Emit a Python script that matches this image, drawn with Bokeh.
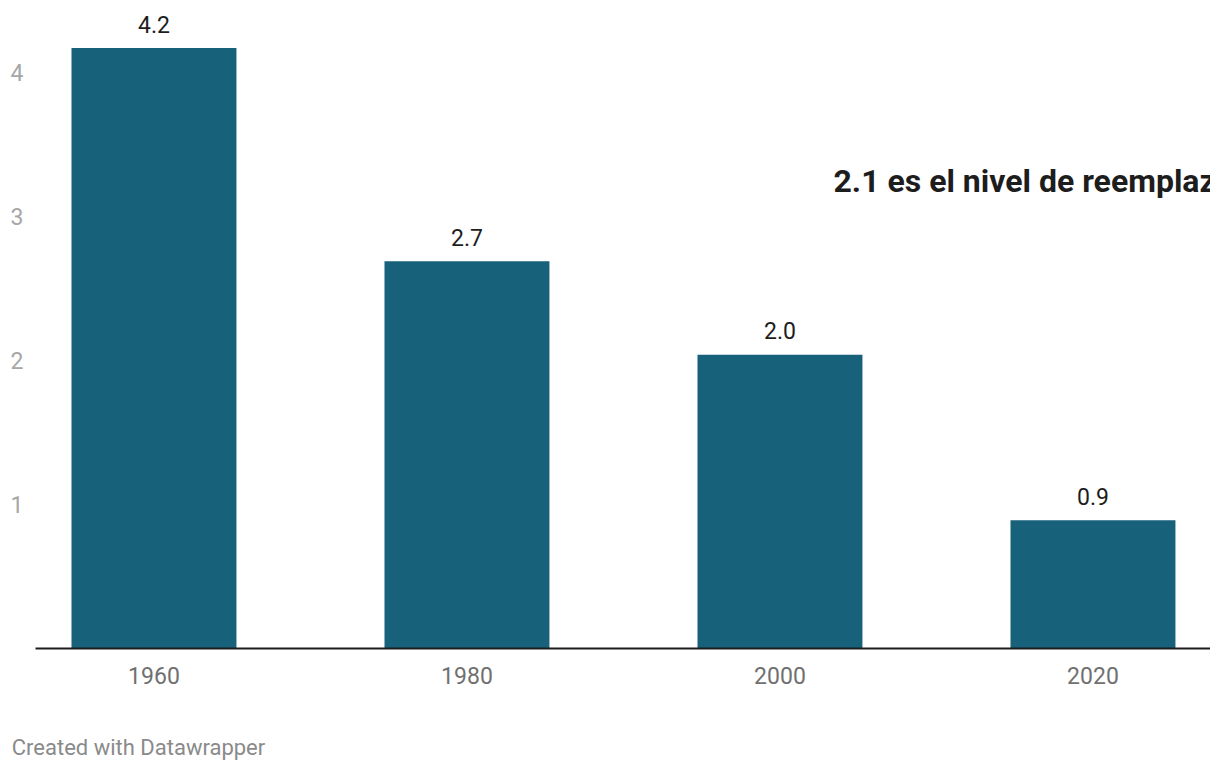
from bokeh.plotting import figure
from bokeh.layouts import column
from bokeh.models import Range1d, FixedTicker, Label, ColumnDataSource
from bokeh.core.properties import value
from bokeh.embed import file_html
from bokeh.resources import INLINE

# --- data ---
years = [1960, 1980, 2000, 2020]
year_labels = ["1960", "1980", "2000", "2020"]
fertility = [4.17, 2.69, 2.04, 0.89]
y_ticks = [1, 2, 3, 4]
annotation_text = "2.1 es el nivel de reemplazo"
footer_text = "Created with Datawrapper"

BAR = "#17617a"
FONT = "Roboto"

src = ColumnDataSource(dict(
    x=years, top=fertility, lab=[f"{v:.1f}" for v in fertility]))

p = figure(width=1210, height=722, output_backend="svg", toolbar_location=None,
           x_range=Range1d(1952.43, 2027.51), y_range=Range1d(0, 4.5),
           min_border_left=35, min_border_right=0, min_border_top=0,
           min_border_bottom=74)
p.outline_line_color = None
p.background_fill_color = "white"
p.border_fill_color = "white"
p.xgrid.visible = False
p.ygrid.visible = False

p.vbar(x="x", top="top", bottom=0, width=10.54, source=src,
       fill_color=BAR, line_color=None)
p.text(x="x", y="top", text="lab", source=src, y_offset=-24,
       text_align="center", text_baseline="middle",
       text_font=value(FONT), text_font_size="23px", text_color="#1d1d1d")

# x axis
xa = p.xaxis[0]
xa.ticker = FixedTicker(ticks=years)
xa.major_label_overrides = {y: l for y, l in zip(years, year_labels)}
xa.axis_line_color = "#1d1d1d"
xa.axis_line_width = 2
xa.major_tick_line_color = None
xa.minor_tick_line_color = None
xa.major_label_text_font = FONT
xa.major_label_text_font_size = "23px"
xa.major_label_text_color = "#707070"
xa.major_label_standoff = 12

# y axis
ya = p.yaxis[0]
ya.ticker = FixedTicker(ticks=y_ticks)
ya.axis_line_color = None
ya.major_tick_line_color = None
ya.minor_tick_line_color = None
ya.major_label_text_font = FONT
ya.major_label_text_font_size = "23px"
ya.major_label_text_color = "#a6a6a6"
ya.major_label_standoff = 6

p.add_layout(Label(x=798, y=468, x_units="screen", y_units="screen",
                   text=annotation_text, text_font=FONT, text_font_size="32px",
                   text_font_style="bold", text_color="#1d1d1d",
                   text_baseline="middle"))

# footer strip: the credit line is drawn as the single label of a bare axis
f = figure(width=1210, height=48, output_backend="svg", toolbar_location=None,
           x_range=Range1d(35, 1210), y_range=Range1d(0, 1),
           y_axis_type=None,
           min_border_left=0, min_border_right=0, min_border_top=0,
           min_border_bottom=36)
f.outline_line_color = None
f.grid.visible = False
f.background_fill_color = "white"
f.border_fill_color = "white"
fa = f.xaxis[0]
fa.ticker = FixedTicker(ticks=[138])
fa.major_label_overrides = {138: footer_text}
fa.axis_line_color = None
fa.major_tick_line_color = None
fa.minor_tick_line_color = None
fa.major_tick_out = 0
fa.major_tick_in = 0
fa.minor_tick_out = 0
fa.major_label_standoff = 0
fa.major_label_text_font = FONT
fa.major_label_text_font_size = "22px"
fa.major_label_text_color = "#8a8a8a"

layout = column(p, f, spacing=0)
open("out.html", "w").write(file_html(layout, INLINE))
